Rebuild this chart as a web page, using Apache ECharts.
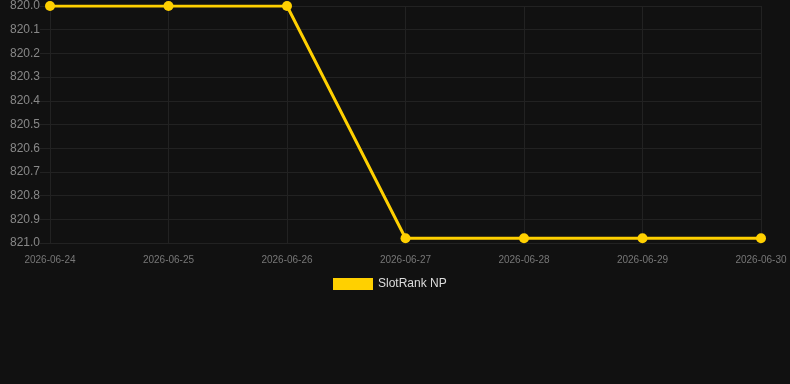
<!DOCTYPE html>
<html><head><meta charset="utf-8">
<script src="https://cdn.jsdelivr.net/npm/echarts@6/dist/echarts.min.js"></script>
<style>html,body{margin:0;padding:0;background:#111111;}#c{width:790px;height:384px;}</style>
</head><body><div id="c"></div>
<script>
const dates = ['2026-06-24','2026-06-25','2026-06-26','2026-06-27','2026-06-28','2026-06-29','2026-06-30'];
const rankValues = [820.0, 820.0, 820.0, 820.98, 820.98, 820.98, 820.98];
const seriesName = 'SlotRank NP';
const yMin = 820.0, yMax = 821.0, yStep = 0.1;

const chart = echarts.init(document.getElementById('c'), null, {renderer:'canvas'});
chart.setOption({
  backgroundColor: '#111111',
  animation: false,
  textStyle: {fontFamily: 'Liberation Sans, Arial, sans-serif'},
  grid: {left: 50, right: 29, top: 6, bottom: 141, containLabel: false},
  legend: {
    data: [seriesName], top: 273, left: 328,
    itemWidth: 40, itemHeight: 12, itemGap: 10,
    icon: 'rect',
    textStyle: {color: '#dddddd', fontSize: 12, fontFamily: 'Liberation Sans, Arial, sans-serif'}
  },
  xAxis: {
    type: 'category', data: dates, boundaryGap: false,
    axisLine: {show: false},
    axisTick: {show: false},
    axisLabel: {color: '#777777', fontSize: 10, margin: 12},
    splitLine: {show: true, lineStyle: {color: '#222222', width: 1}}
  },
  yAxis: {
    type: 'value', inverse: true, min: yMin, max: yMax, interval: yStep,
    axisLine: {show: false},
    axisTick: {show: true, length: 10, lineStyle: {color: '#222222'}},
    axisLabel: {color: '#888888', fontSize: 12, margin: 10, formatter: v => v.toFixed(1)},
    splitLine: {show: true, lineStyle: {color: '#222222', width: 1}}
  },
  series: [{
    name: seriesName, type: 'line', data: rankValues,
    symbol: 'circle', symbolSize: 10,
    lineStyle: {color: '#ffd000', width: 3},
    itemStyle: {color: '#ffd000'},
    emphasis: {disabled: true}
  }]
});
</script></body></html>
